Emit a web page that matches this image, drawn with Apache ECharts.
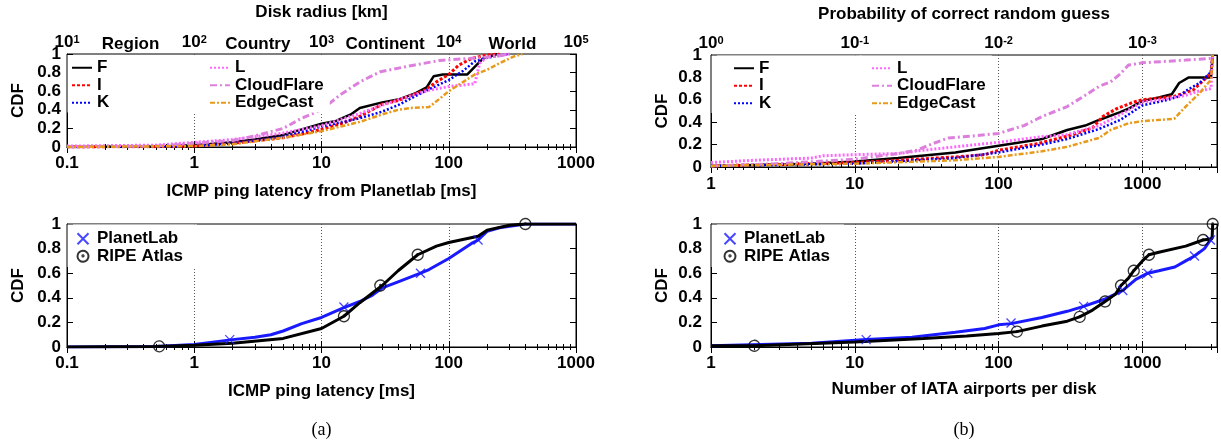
<!DOCTYPE html>
<html><head><meta charset="utf-8">
<script src="https://cdn.jsdelivr.net/npm/echarts@6/dist/echarts.min.js"></script>
<style>html,body{margin:0;padding:0;background:#fff}#c{width:1221px;height:443px}</style>
</head><body><div id="c"></div>
<script>
// ---------- data ----------
// (a) top: ICMP ping latency from Planetlab [ms] -> CDF
const tlF  = [[0.1,0],[0.5,0.005],[1,0.02],[2,0.05],[3,0.08],[5,0.13],[7,0.19],[10,0.25],[13,0.28],[17,0.35],[20,0.42],[30,0.48],[40,0.51],[55,0.58],[67,0.64],[76,0.76],[90,0.78],[140,0.78],[165,0.88],[186,0.95],[240,1]];
const tlI  = [[0.1,0],[0.5,0.003],[1,0.01],[2,0.04],[5,0.1],[7,0.14],[10,0.19],[15,0.26],[20,0.33],[30,0.46],[40,0.5],[50,0.55],[65,0.61],[80,0.7],[100,0.78],[120,0.88],[150,0.95],[200,0.99],[250,1]];
const tlK  = [[0.1,0],[1,0.01],[2,0.04],[5,0.11],[10,0.22],[15,0.27],[20,0.31],[30,0.38],[40,0.45],[50,0.52],[70,0.62],[100,0.72],[130,0.82],[160,0.92],[200,0.96],[300,1]];
const tlL  = [[0.1,0.01],[0.5,0.02],[1,0.05],[2,0.08],[5,0.15],[10,0.23],[20,0.36],[30,0.45],[50,0.55],[70,0.61],[100,0.65],[160,0.68],[175,0.9],[200,0.97],[300,1]];
const tlCF = [[0.1,0],[0.5,0.01],[1,0.04],[2,0.07],[3,0.12],[5,0.2],[7,0.31],[10,0.4],[14,0.56],[20,0.7],[29,0.81],[53,0.88],[85,0.93],[175,0.96],[250,0.98],[300,1]];
const tlEC = [[0.1,0],[1,0.01],[2,0.03],[5,0.1],[10,0.17],[20,0.27],[30,0.35],[40,0.4],[50,0.42],[70,0.43],[85,0.52],[100,0.6],[130,0.7],[160,0.78],[200,0.83],[250,0.9],[320,0.97],[380,1]];
// (b) top: number of IATA airports per disk -> CDF
const trF  = [[1,0.01],[5,0.03],[10,0.05],[20,0.08],[50,0.13],[100,0.19],[200,0.25],[300,0.33],[400,0.37],[500,0.42],[700,0.49],[800,0.52],[1000,0.59],[1300,0.62],[1600,0.65],[1800,0.75],[2100,0.8],[3000,0.8],[3080,1]];
const trI  = [[1,0.01],[10,0.04],[20,0.06],[50,0.09],[80,0.11],[100,0.15],[190,0.21],[330,0.29],[450,0.35],[530,0.45],[660,0.52],[870,0.58],[1000,0.6],[1660,0.63],[2270,0.69],[2800,0.8],[3000,0.85],[3080,1]];
const trK  = [[1,0.01],[10,0.03],[50,0.08],[100,0.13],[200,0.2],[300,0.25],[500,0.34],[700,0.42],[1000,0.55],[1500,0.6],[1800,0.63],[2000,0.68],[2500,0.75],[3000,0.85],[3080,1]];
const trL  = [[1,0.04],[2,0.06],[5,0.08],[6,0.1],[10,0.11],[20,0.12],[30,0.15],[50,0.18],[70,0.2],[100,0.22],[150,0.25],[200,0.27],[300,0.29],[500,0.37],[730,0.48],[1000,0.58],[1500,0.61],[2000,0.64],[2500,0.68],[3000,0.7],[3080,1]];
const trCF = [[1,0.01],[3,0.03],[10,0.07],[20,0.12],[27,0.15],[35,0.21],[45,0.26],[70,0.28],[100,0.3],[150,0.37],[200,0.45],[300,0.54],[400,0.64],[500,0.72],[600,0.76],[700,0.83],[800,0.91],[1000,0.93],[2000,0.955],[3000,0.97],[3080,1]];
const trEC = [[1,0.01],[10,0.03],[50,0.06],[100,0.09],[200,0.14],[300,0.18],[500,0.26],[600,0.33],[800,0.39],[1000,0.41],[1660,0.43],[2000,0.54],[2500,0.66],[3000,0.78],[3080,1]];
// (a) bottom: ICMP ping latency [ms]
const blPL   = [[0.1,0],[0.5,0.005],[1,0.02],[2,0.06],[3,0.08],[4,0.1],[5,0.13],[7,0.19],[10,0.24],[15,0.32],[20,0.37],[25,0.42],[30,0.48],[40,0.53],[60,0.6],[70,0.63],[100,0.72],[150,0.84],[170,0.87],[200,0.94],[250,0.97],[400,1],[1000,1]];
const blPLmk = [[1.9,0.06],[15,0.325],[60,0.6],[170,0.87]];
const blRA   = [[0.1,0],[0.5,0.005],[1,0.015],[2,0.03],[5,0.07],[10,0.15],[15,0.25],[20,0.36],[30,0.5],[40,0.62],[57,0.75],[80,0.82],[100,0.85],[170,0.9],[200,0.95],[300,0.99],[400,1],[1000,1]];
const blRAmk = [[0.53,0.005],[15,0.25],[29,0.5],[57,0.75],[400,1]];
// (b) bottom: number of IATA airports per disk
const brPL   = [[1,0.01],[5,0.03],[12,0.06],[25,0.08],[50,0.12],[80,0.15],[100,0.18],[122,0.19],[200,0.24],[300,0.29],[390,0.33],[550,0.39],[730,0.46],[900,0.55],[1090,0.6],[1300,0.62],[1680,0.65],[2000,0.7],[2300,0.74],[2700,0.8],[2970,0.87],[3080,0.9]];
const brPLmk = [[12,0.06],[122,0.195],[390,0.33],[730,0.46],[1090,0.6],[2300,0.74],[2970,0.87]];
const brRA   = [[1,0.01],[2,0.01],[10,0.04],[30,0.07],[60,0.09],[100,0.11],[134,0.125],[200,0.17],[300,0.21],[366,0.245],[450,0.3],[550,0.37],[650,0.43],[710,0.5],[800,0.56],[870,0.62],[1000,0.7],[1110,0.75],[1300,0.77],[2000,0.82],[2640,0.87],[3050,0.88],[3080,1]];
const brRAmk = [[2,0.01],[134,0.125],[366,0.245],[550,0.37],[710,0.5],[870,0.62],[1110,0.75],[2640,0.87],[3080,1]];

const regionNames = ['Region','Country','Continent','World'];
const regionAtKm  = [31.6, 316, 3162, 31623];

// ---------- chart ----------
const FONT = '"Liberation Sans", Arial, Helvetica, sans-serif';
const TXT = {fontFamily: FONT, fontSize: 17, fontWeight: 'bold', color: '#000'};
const isPow10 = v => { const l = Math.log10(v); return Math.abs(l - Math.round(l)) < 1e-6; };
const plainLog = v => isPow10(v) ? String(Number(Number(v).toPrecision(3))) : '';
const supLog = v => isPow10(v) ? '{b|10}{e|' + Math.round(Math.log10(v)) + '}' : '';
const RICH = {b: {fontFamily: FONT, fontSize: 17, fontWeight: 'bold', color: '#000'},
              e: {fontFamily: FONT, fontSize: 11, fontWeight: 'bold', color: '#000', verticalAlign: 'top', padding: [0, 0, 6, 0]}};

function xAx(grid, min, max, opt) {
  return Object.assign({
    type: 'log', logBase: 10, gridIndex: grid, min: min, max: max, position: 'bottom',
    axisLine: {show: true, lineStyle: {color: '#000', width: 1}},
    axisTick: {show: true, inside: true, length: 6, lineStyle: {color: '#000', width: 1}},
    minorTick: {show: true, splitNumber: 9, length: 3, lineStyle: {color: '#000', width: 1}},
    axisLabel: Object.assign({formatter: plainLog, margin: 8, showMinLabel: true, showMaxLabel: true}, TXT),
    splitLine: {show: true, lineStyle: {color: '#555', width: 1, type: [1, 2]}},
    nameLocation: 'middle', nameTextStyle: TXT
  }, opt);
}
function topAx(grid, min, max, opt) {
  return xAx(grid, min, max, Object.assign({position: 'top', splitLine: {show: false},
    axisLabel: {show: false}}, opt));
}
function yAx(grid, right, margin, gap) {
  return {
    type: 'value', gridIndex: grid, min: 0, max: 1, interval: 0.2, position: right ? 'right' : 'left',
    name: right ? '' : 'CDF', nameLocation: 'middle', nameGap: gap, nameRotate: 90, nameTextStyle: TXT,
    axisLine: {show: true, lineStyle: {color: '#000', width: 1}},
    axisTick: {show: true, inside: true, length: 6, lineStyle: {color: '#000', width: 1}},
    axisLabel: Object.assign({show: !right, margin: margin}, TXT),
    splitLine: {show: false}
  };
}
function lineS(name, data, ax, color, width, dash) {
  return {type: 'line', name: name, data: data, xAxisIndex: ax, yAxisIndex: ax, symbol: 'none',
    lineStyle: {color: color, width: width, type: dash}, itemStyle: {color: color}, animation: false};
}
const CROSS = 'path://M0,0L10,10M10,0L0,10';
const RING = 'path://M10,5A5,5,0,1,1,9.99,4.9ZM5.6,5A0.6,0.6,0,1,1,5.59,4.95Z';
function markS(name, data, ax, sym, color, size) {
  return {type: 'scatter', name: name, data: data, xAxisIndex: ax, yAxisIndex: ax, symbol: sym, symbolSize: size,
    itemStyle: {color: 'rgba(0,0,0,0)', borderColor: color, borderWidth: 1.3}, z: 5, animation: false};
}
const ST = {
  F: ['#000000', 2.5, 'solid'], I: ['#ff0000', 3, [3, 2]], K: ['#0000ff', 2.5, [2, 2]],
  L: ['#ff66ff', 3, [2, 2]], CloudFlare: ['#dd80dd', 3, [7, 3, 2, 3]], EdgeCast: ['#e89a1a', 2.5, [5, 2, 2, 2]]
};
function six(ax, arrs) {
  const names = ['F', 'I', 'K', 'L', 'CloudFlare', 'EdgeCast'];
  return names.map((n, i) => lineS(n, arrs[i], ax, ST[n][0], ST[n][1], ST[n][2]));
}
function legendBox(left, top, data, pad, iw, ih, hideSymbol) {
  const o = {left: left, top: top, orient: 'vertical', data: data, itemWidth: iw || 20, itemHeight: ih || 10, itemGap: 0,
    padding: pad, backgroundColor: '#fff', selectedMode: false,
    textStyle: Object.assign({lineHeight: 17.5}, TXT)};
  if (hideSymbol) o.itemStyle = {opacity: 0, color: 'rgba(0,0,0,0)', borderWidth: 0};
  return o;
}

const chart = echarts.init(document.getElementById('c'));
const option = {
  animation: false,
  backgroundColor: '#fff',
  grid: [
    {left: 67, top: 54, width: 509, height: 93, show: true, borderColor: '#000', borderWidth: 1},
    {left: 711, top: 55, width: 506, height: 112, show: true, borderColor: '#000', borderWidth: 1},
    {left: 67, top: 224, width: 509, height: 123, show: true, borderColor: '#000', borderWidth: 1},
    {left: 711, top: 224, width: 506, height: 123, show: true, borderColor: '#000', borderWidth: 1}
  ],
  xAxis: [
    xAx(0, 0.1, 1000, {name: 'ICMP ping latency from Planetlab [ms]', nameGap: 36}),
    xAx(1, 1, 3300, {name: '', axisLabel: Object.assign({formatter: plainLog, margin: 9, showMinLabel: true, showMaxLabel: true}, TXT)}),
    xAx(2, 0.1, 1000, {name: 'ICMP ping latency [ms]', nameGap: 36}),
    xAx(3, 1, 3300, {name: 'Number of IATA airports per disk', nameGap: 34}),
    topAx(0, 10, 100000, {name: 'Disk radius [km]', nameGap: 33,
      axisLabel: {show: true, formatter: supLog, rich: RICH, margin: 3, showMinLabel: true, showMaxLabel: true}}),
    topAx(1, 1 / 3300, 1, {inverse: true, name: 'Probability of correct random guess', nameGap: 32,
      axisLabel: {show: true, formatter: supLog, rich: RICH, margin: 3, showMinLabel: true, showMaxLabel: true}}),
    topAx(2, 0.1, 1000, {}),
    topAx(3, 1, 3300, {})
  ],
  yAxis: [
    yAx(0, false, 6, 40), yAx(1, false, 9, 40), yAx(2, false, 6, 40), yAx(3, false, 9, 40),
    yAx(0, true), yAx(1, true), yAx(2, true), yAx(3, true)
  ],
  legend: [
    legendBox(67.5, 55, ['F', 'I', 'K'], [4, 100, 1, 3.5], 20, 10, true),
    legendBox(200, 55, ['L', 'CloudFlare', 'EdgeCast'], [4, 6, 1, 9], 20, 10, true),
    legendBox(711.5, 55.5, ['F', 'I', 'K'], [4, 90, 1, 21.5], 20, 10, true),
    legendBox(860, 55.5, ['L', 'CloudFlare', 'EdgeCast'], [4, 6, 1, 11], 20, 10, true),
    legendBox(67.5, 224.5, ['PlanetLab', 'RIPE Atlas'], [5.5, 14, 2, 9], 18, 11),
    legendBox(711.5, 224.5, ['PlanetLab', 'RIPE Atlas'], [5.5, 14, 2, 12], 18, 11)
  ],
  series: [].concat(
    six(0, [tlF, tlI, tlK, tlL, tlCF, tlEC]),
    six(1, [trF, trI, trK, trL, trCF, trEC]),
    [
      lineS('PlanetLab curve', blPL, 2, '#1a1aff', 3, 'solid'),
      lineS('RIPE Atlas curve', blRA, 2, '#000000', 3, 'solid'),
      markS('PlanetLab', blPLmk, 2, CROSS, '#1a1aff', 9),
      markS('RIPE Atlas', blRAmk, 2, RING, '#000000', 11),
      lineS('PlanetLab curve', brPL, 3, '#1a1aff', 3, 'solid'),
      lineS('RIPE Atlas curve', brRA, 3, '#000000', 3, 'solid'),
      markS('PlanetLab', brPLmk, 3, CROSS, '#1a1aff', 9),
      markS('RIPE Atlas', brRAmk, 3, RING, '#000000', 11)
    ]
  )
};
chart.setOption(option);

// text labels placed through the top axis scale, and panel captions
const g = regionNames.map((t, i) => ({
  type: 'text', x: chart.convertToPixel({xAxisIndex: 4}, regionAtKm[i]), y: 44, z: 10,
  style: {text: t, textAlign: 'center', textVerticalAlign: 'middle', font: 'bold 17px ' + FONT, fill: '#000'}
}));
g.push({type: 'text', x: 321.5, y: 430, style: {text: '(a)', textAlign: 'center', textVerticalAlign: 'middle', font: '18px "Liberation Serif", "Times New Roman", serif', fill: '#000'}});
g.push({type: 'text', x: 964, y: 430, style: {text: '(b)', textAlign: 'center', textVerticalAlign: 'middle', font: '18px "Liberation Serif", "Times New Roman", serif', fill: '#000'}});
chart.setOption({graphic: g});
</script>
</body></html>
